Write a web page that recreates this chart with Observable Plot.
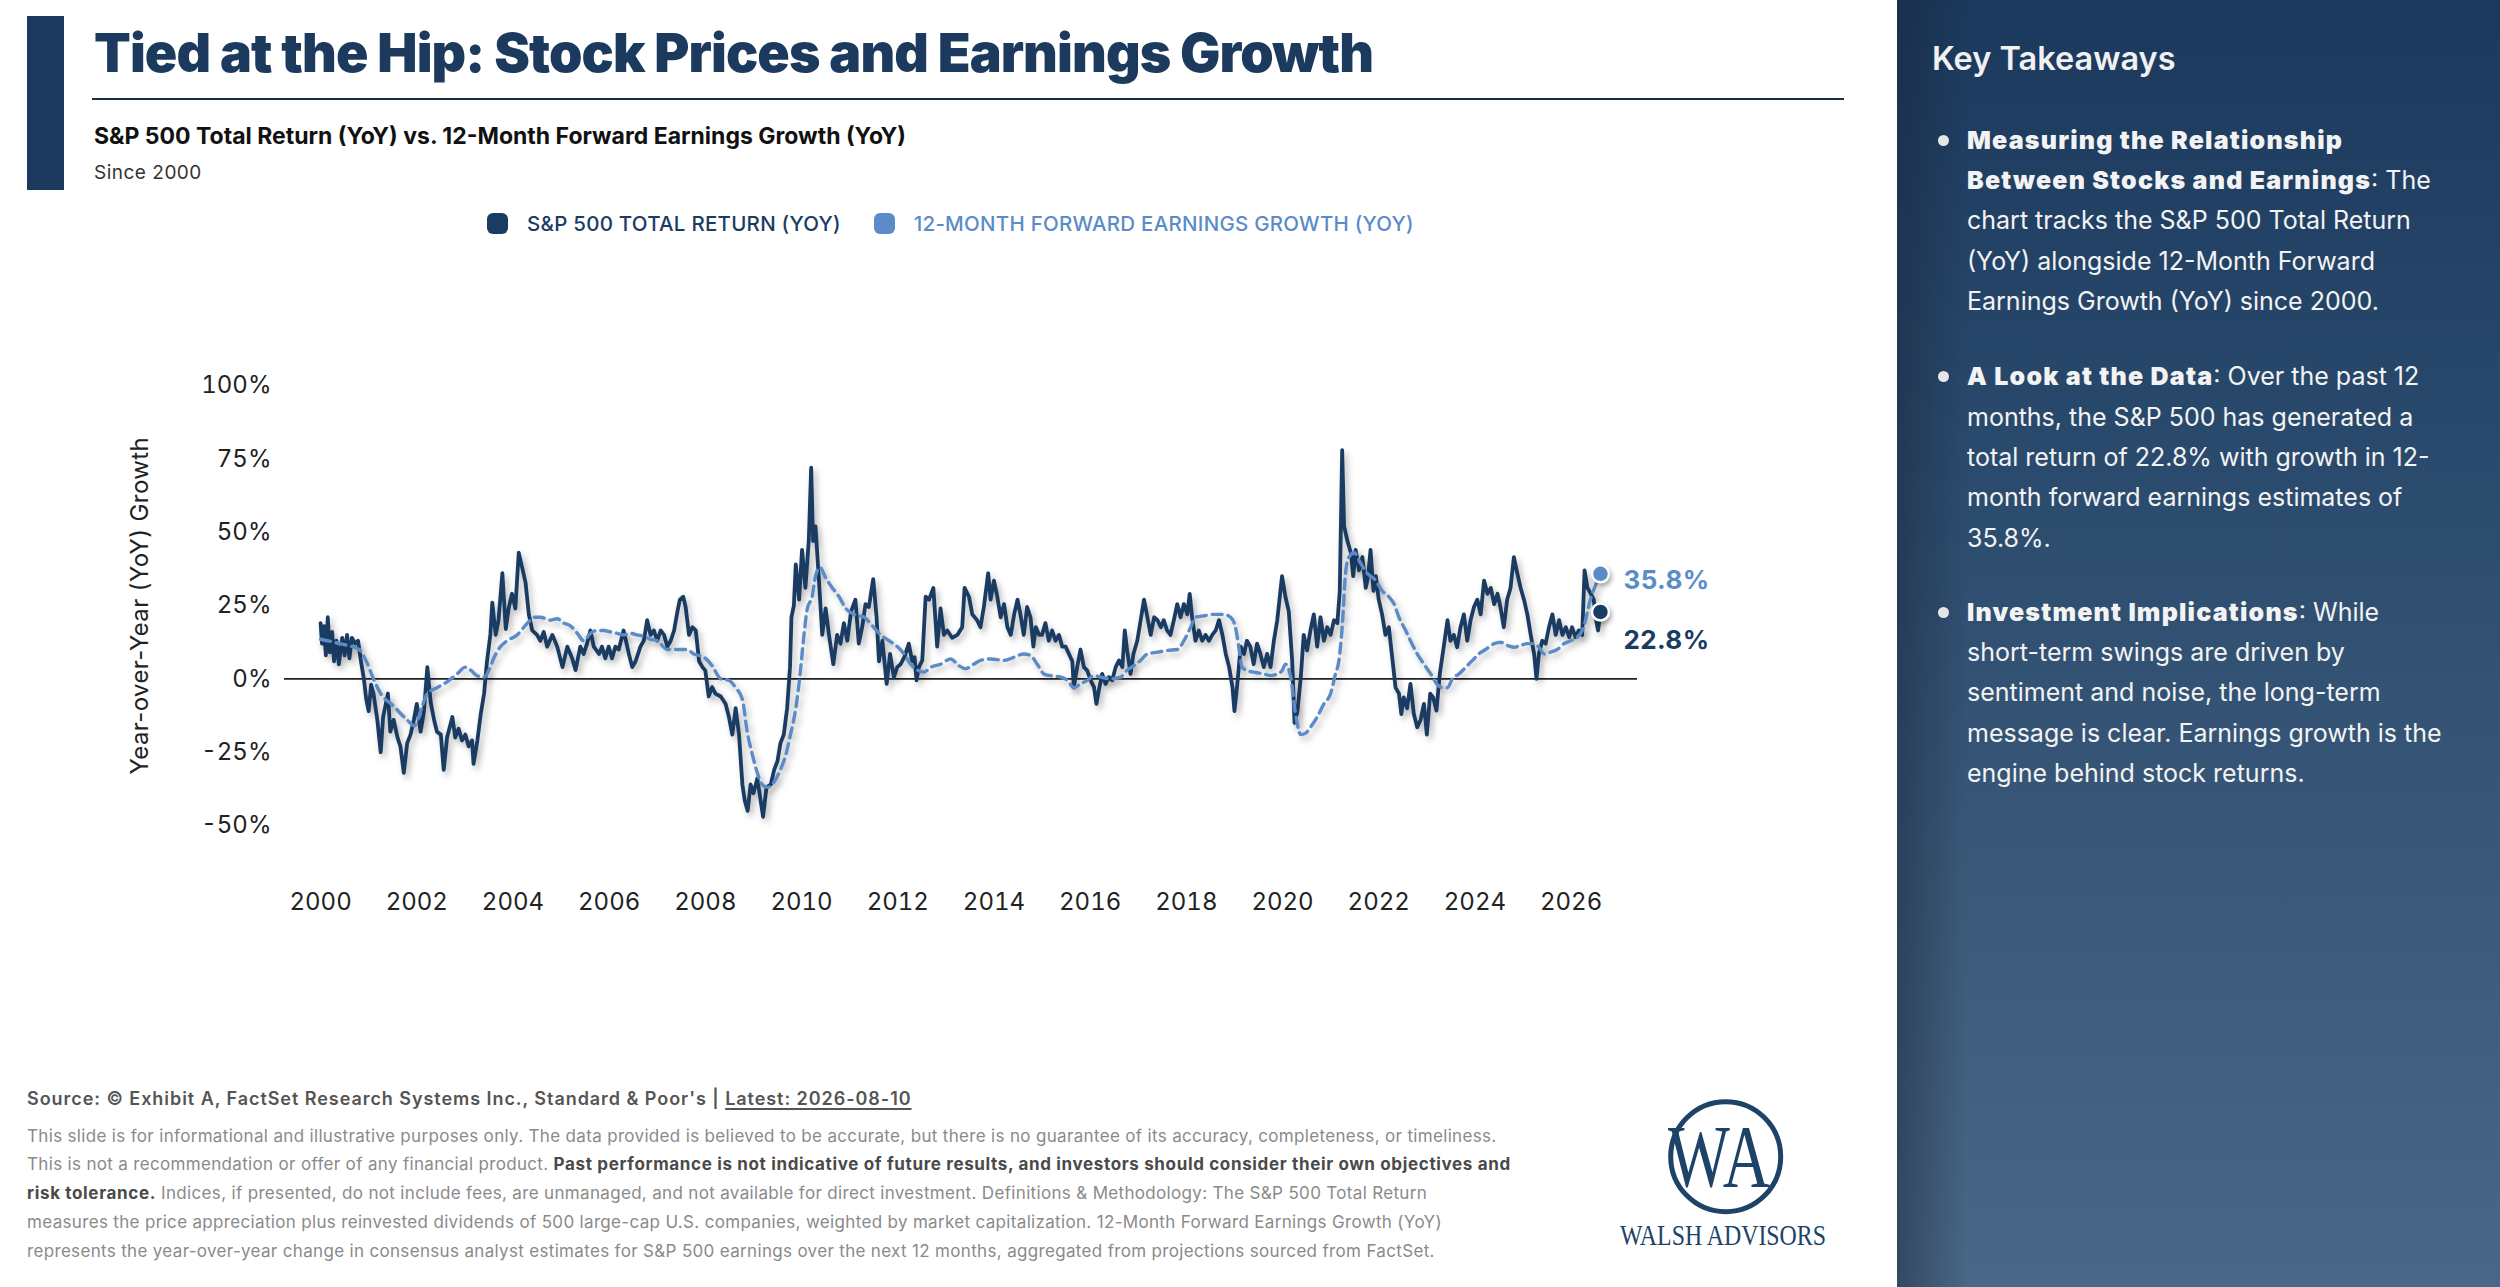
<!DOCTYPE html>
<html>
<head>
<meta charset="utf-8">
<script src="https://cdn.jsdelivr.net/npm/d3@7"></script>
<script src="https://cdn.jsdelivr.net/npm/@observablehq/plot@0.6"></script>
<style>
  html, body { margin: 0; padding: 0; }
  body { width: 2500px; height: 1287px; position: relative; overflow: hidden; background: #fff; font-family: Inter, "Noto Sans", sans-serif; }
  .abs { position: absolute; white-space: nowrap; }
  #bar { left: 27px; top: 16px; width: 37px; height: 174px; background: #1b3a5e; }
  #title { left: 94px; top: 22.5px; font-size: 53.6px; line-height: 60px; font-weight: 900; color: #1b3a5e; letter-spacing: -0.9px; }
  #rule { left: 92px; top: 98px; width: 1752px; height: 2px; background: #1e2b40; }
  #subtitle { left: 94px; top: 123.5px; font-size: 23px; line-height: 24px; font-weight: 700; color: #111; letter-spacing: 0px; }
  #since { left: 94px; top: 161px; font-size: 19px; line-height: 24px; font-weight: 400; color: #333; letter-spacing: 0.5px; }
  #legend { left: 487px; top: 211px; height: 24px; display: flex; align-items: center; font-size: 20.5px; font-weight: 500; letter-spacing: 0.25px; }
  #legend .sw { width: 21px; height: 21px; border-radius: 6px; display: inline-block; margin-right: 19px; }
  #legend .item { display: flex; align-items: center; margin-right: 33px; }
  #chart { left: 0; top: 300px; }
  #panel { left: 1897px; top: 0; width: 603px; height: 1287px;
    background: linear-gradient(to right, rgba(25,35,55,0.45) 0px, rgba(25,35,55,0.0) 70px),
                linear-gradient(180deg, #1a395d 0%, #2a4a6d 35%, #3b5a7a 70%, #496786 100%); }
  #kt { left: 1932px; top: 40px; font-size: 32.5px; line-height: 38px; font-weight: 600; color: #f1f1f1; }
  .para { left: 1967px; font-size: 25px; line-height: 40.3px; color: #f3f3f3; font-weight: 400; white-space: nowrap; }
  .para b { font-weight: 900; letter-spacing: 1.2px; }
  .dot { width: 11px; height: 11px; border-radius: 50%; background: #e6e6e6; left: 1937.5px; }
  #source { left: 27px; top: 1087px; font-size: 18px; line-height: 24px; font-weight: 600; color: #555; letter-spacing: 0.95px; }
  #source u { text-decoration-thickness: 1.5px; text-underline-offset: 3px; }
  #disc { left: 27px; top: 1121.6px; font-size: 17px; line-height: 28.8px; color: #8a8a8a; white-space: nowrap; letter-spacing: 0.33px; }
  #disc b { color: #4a4a4a; font-weight: 700; letter-spacing: 0.65px; }
  #logo { left: 1600px; top: 1080px; }
</style>
</head>
<body>
<div id="bar" class="abs"></div>
<div id="title" class="abs">Tied at the Hip: Stock Prices and Earnings Growth</div>
<div id="rule" class="abs"></div>
<div id="subtitle" class="abs">S&amp;P 500 Total Return (YoY) vs. 12-Month Forward Earnings Growth (YoY)</div>
<div id="since" class="abs">Since 2000</div>
<div id="legend" class="abs"></div>
<div id="chart" class="abs"></div>

<div id="panel" class="abs"></div>
<div id="kt" class="abs">Key Takeaways</div>
<div class="abs dot" style="top:134.5px"></div>
<div class="abs para" style="top:119.9px"><b>Measuring the Relationship</b><br><b>Between Stocks and Earnings</b>: The<br>chart tracks the S&amp;P 500 Total Return<br>(YoY) alongside 12-Month Forward<br>Earnings Growth (YoY) since 2000.</div>
<div class="abs dot" style="top:371px"></div>
<div class="abs para" style="top:356.4px"><b>A Look at the Data</b>: Over the past 12<br>months, the S&amp;P 500 has generated a<br>total return of 22.8% with growth in 12-<br>month forward earnings estimates of<br>35.8%.</div>
<div class="abs dot" style="top:606.5px"></div>
<div class="abs para" style="top:591.9px"><b>Investment Implications</b>: While<br>short-term swings are driven by<br>sentiment and noise, the long-term<br>message is clear. Earnings growth is the<br>engine behind stock returns.</div>

<div id="source" class="abs">Source: © Exhibit A, FactSet Research Systems Inc., Standard &amp; Poor's | <u>Latest: 2026-08-10</u></div>
<div id="disc" class="abs">This slide is for informational and illustrative purposes only. The data provided is believed to be accurate, but there is no guarantee of its accuracy, completeness, or timeliness.<br>This is not a recommendation or offer of any financial product. <b>Past performance is not indicative of future results, and investors should consider their own objectives and</b><br><b>risk tolerance.</b> Indices, if presented, do not include fees, are unmanaged, and not available for direct investment. Definitions &amp; Methodology: The S&amp;P 500 Total Return<br>measures the price appreciation plus reinvested dividends of 500 large-cap U.S. companies, weighted by market capitalization. 12-Month Forward Earnings Growth (YoY)<br>represents the year-over-year change in consensus analyst estimates for S&amp;P 500 earnings over the next 12 months, aggregated from projections sourced from FactSet.</div>

<svg id="logo" class="abs" width="296" height="207" viewBox="1600 1080 296 207">
  <circle cx="1725.7" cy="1156.7" r="55" fill="none" stroke="#1d4368" stroke-width="5"/>
  <text x="1668" y="1186" font-family="Liberation Serif, DejaVu Serif, serif" font-size="88" fill="#1d4368" textLength="102" lengthAdjust="spacingAndGlyphs">WA</text>
  <text x="1620" y="1245" font-family="Liberation Serif, DejaVu Serif, serif" font-size="30" fill="#1d4368" textLength="206" lengthAdjust="spacingAndGlyphs">WALSH ADVISORS</text>
</svg>

<script>
// ---- Data ----
const seriesNames = ["S&P 500 TOTAL RETURN (YOY)", "12-MONTH FORWARD EARNINGS GROWTH (YOY)"];
const seriesColors = ["#1a3c63", "#5b8cc8"];
const xTicks = [2000, 2002, 2004, 2006, 2008, 2010, 2012, 2014, 2016, 2018, 2020, 2022, 2024, 2026];
const yTicks = [-0.5, -0.25, 0, 0.25, 0.5, 0.75, 1.0];
const yAxisLabel = "Year-over-Year (YoY) Growth";

const spxYears = [
2000.00,2000.03,2000.07,2000.11,2000.15,2000.19,2000.24,2000.28,2000.33,2000.38,2000.45,2000.50,2000.55,2000.60,2000.65,2000.72,2000.78,2000.83,2000.90,2000.95,
2001.00,2001.05,2001.10,2001.18,2001.25,2001.30,2001.40,2001.45,2001.52,2001.60,2001.66,2001.73,2001.80,2001.87,2001.94,
2002.00,2002.08,2002.15,2002.22,2002.29,2002.36,2002.42,2002.50,2002.56,2002.63,2002.74,2002.80,2002.87,2002.94,
2003.01,2003.08,2003.15,2003.18,2003.26,2003.33,2003.40,2003.46,2003.53,2003.57,2003.64,2003.70,2003.78,2003.85,2003.91,2003.98,
2004.05,2004.12,2004.19,2004.26,2004.33,2004.40,2004.50,2004.57,2004.64,2004.71,2004.82,2004.92,
2005.03,2005.13,2005.23,2005.30,2005.40,2005.47,2005.54,2005.61,2005.68,2005.79,2005.85,2005.92,2005.99,
2006.06,2006.13,2006.20,2006.30,2006.41,2006.48,2006.55,2006.65,2006.72,2006.79,2006.86,2006.93,
2007.00,2007.07,2007.14,2007.21,2007.28,2007.35,2007.42,2007.47,2007.54,2007.59,2007.66,2007.73,2007.80,2007.87,2007.94,
2008.00,2008.07,2008.14,2008.21,2008.32,2008.42,2008.49,2008.56,2008.63,2008.70,2008.77,2008.82,2008.88,2008.94,
2009.00,2009.08,2009.15,2009.20,2009.27,2009.36,2009.43,2009.50,2009.56,2009.63,2009.70,2009.76,2009.79,2009.84,2009.88,2009.95,
2010.01,2010.08,2010.15,2010.20,2010.24,2010.29,2010.36,2010.43,2010.50,2010.57,2010.66,2010.74,2010.81,2010.88,2010.95,
2011.03,2011.12,2011.19,2011.26,2011.33,2011.40,2011.49,2011.56,2011.61,2011.68,2011.77,2011.84,2011.92,2011.99,
2012.06,2012.14,2012.23,2012.30,2012.35,2012.39,2012.44,2012.51,2012.58,2012.65,2012.74,2012.82,2012.89,2012.96,
2013.03,2013.13,2013.24,2013.34,2013.39,2013.48,2013.55,2013.65,2013.72,2013.79,2013.88,2013.93,
2014.00,2014.07,2014.14,2014.21,2014.28,2014.35,2014.42,2014.49,2014.55,2014.62,2014.69,2014.76,2014.82,2014.87,2014.94,
2015.00,2015.07,2015.14,2015.21,2015.28,2015.35,2015.42,2015.49,2015.56,2015.63,2015.66,2015.73,2015.80,2015.87,2015.94,
2016.01,2016.08,2016.13,2016.18,2016.25,2016.32,2016.39,2016.46,2016.53,2016.60,2016.67,2016.72,2016.77,2016.84,2016.90,2016.98,
2017.05,2017.12,2017.19,2017.26,2017.33,2017.40,2017.47,2017.53,2017.60,2017.67,2017.74,2017.81,2017.88,2017.95,
2018.02,2018.07,2018.12,2018.19,2018.26,2018.33,2018.40,2018.47,2018.54,2018.61,2018.68,2018.75,2018.82,2018.89,2018.96,
2019.00,2019.06,2019.13,2019.20,2019.26,2019.33,2019.40,2019.47,2019.54,2019.61,2019.68,2019.75,2019.82,2019.89,2019.95,2019.99,
2020.06,2020.13,2020.20,2020.25,2020.31,2020.38,2020.44,2020.51,2020.58,2020.65,2020.72,2020.79,2020.86,2020.93,
2021.00,2021.07,2021.14,2021.19,2021.24,2021.28,2021.35,2021.42,2021.47,2021.52,2021.59,2021.66,2021.73,2021.78,2021.83,2021.89,2021.94,
2022.00,2022.07,2022.14,2022.21,2022.28,2022.35,2022.42,2022.47,2022.52,2022.59,2022.66,2022.73,2022.80,2022.87,2022.94,
2023.00,2023.07,2023.13,2023.20,2023.27,2023.34,2023.43,2023.49,2023.56,2023.63,2023.70,2023.77,2023.84,2023.91,2023.98,
2024.05,2024.12,2024.19,2024.26,2024.33,2024.40,2024.47,2024.53,2024.60,2024.67,2024.74,2024.81,2024.88,2024.95,
2025.02,2025.09,2025.16,2025.23,2025.28,2025.33,2025.40,2025.47,2025.54,2025.61,2025.68,2025.75,2025.82,2025.89,2025.96,
2026.02,2026.09,2026.16,2026.23,2026.28,2026.34,2026.41,2026.47,2026.53,2026.56,2026.61];
const spxValues = [
0.19,0.12,0.18,0.08,0.21,0.09,0.16,0.06,0.13,0.05,0.14,0.08,0.15,0.07,0.14,0.12,0.13,0.07,0.00,-0.07,
-0.11,-0.02,-0.05,-0.14,-0.25,-0.13,-0.05,-0.18,-0.14,-0.20,-0.23,-0.32,-0.22,-0.19,-0.14,
-0.085,-0.18,-0.11,0.04,-0.08,-0.14,-0.18,-0.19,-0.31,-0.20,-0.13,-0.20,-0.17,-0.21,
-0.19,-0.23,-0.21,-0.29,-0.21,-0.12,-0.05,0.06,0.15,0.26,0.15,0.20,0.36,0.17,0.24,0.29,
0.24,0.43,0.38,0.33,0.22,0.165,0.15,0.13,0.16,0.11,0.15,0.11,
0.04,0.11,0.07,0.03,0.11,0.085,0.12,0.165,0.11,0.085,0.11,0.07,0.11,
0.07,0.11,0.10,0.165,0.085,0.04,0.06,0.11,0.13,0.20,0.15,0.165,
0.13,0.165,0.15,0.11,0.13,0.165,0.23,0.27,0.28,0.245,0.15,0.176,0.165,0.06,0.04,
0.028,-0.06,-0.028,-0.05,-0.06,-0.085,-0.13,-0.19,-0.10,-0.19,-0.36,-0.415,-0.45,-0.36,
-0.39,-0.34,-0.415,-0.47,-0.37,-0.36,-0.31,-0.28,-0.22,-0.19,-0.10,0.04,0.21,0.25,0.39,0.27,
0.44,0.31,0.47,0.72,0.47,0.52,0.34,0.15,0.24,0.15,0.05,0.15,0.12,0.19,0.13,
0.23,0.27,0.12,0.176,0.255,0.245,0.34,0.21,0.06,0.13,-0.017,0.085,0.006,0.04,
0.05,0.075,0.12,0.06,0.074,-0.005,0.04,0.063,0.28,0.27,0.31,0.11,0.24,0.15,
0.165,0.14,0.15,0.176,0.31,0.28,0.22,0.20,0.176,0.245,0.36,0.27,
0.335,0.28,0.21,0.255,0.176,0.15,0.22,0.27,0.22,0.15,0.245,0.21,0.11,0.176,0.15,
0.15,0.19,0.13,0.165,0.13,0.15,0.11,0.11,0.085,0.06,-0.03,0.04,0.10,0.04,0.028,
-0.005,-0.028,-0.085,-0.04,0.017,-0.017,0.006,-0.005,0.04,0.063,0.04,0.165,0.097,0.017,0.085,0.13,
0.20,0.27,0.21,0.15,0.21,0.20,0.176,0.20,0.165,0.15,0.20,0.255,0.21,0.255,
0.22,0.29,0.21,0.13,0.165,0.13,0.15,0.13,0.15,0.165,0.20,0.15,0.085,0.04,-0.03,
-0.11,-0.017,0.11,0.085,0.13,0.11,0.05,0.12,0.085,0.04,0.085,0.04,0.13,0.20,0.29,0.35,
0.28,0.23,0.063,-0.15,-0.11,0.006,0.15,0.097,0.165,0.22,0.11,0.21,0.13,0.176,
0.15,0.20,0.19,0.30,0.78,0.52,0.47,0.43,0.35,0.44,0.37,0.415,0.31,0.35,0.44,0.30,0.35,
0.27,0.22,0.15,0.176,0.074,-0.03,-0.05,-0.12,-0.063,-0.10,-0.017,-0.12,-0.165,-0.14,-0.085,
-0.19,-0.05,-0.063,-0.108,0.017,0.097,0.20,0.13,0.15,0.108,0.176,0.22,0.13,0.20,0.245,
0.27,0.22,0.335,0.29,0.31,0.255,0.29,0.245,0.176,0.27,0.31,0.415,0.36,0.31,
0.27,0.22,0.15,0.085,0.00,0.085,0.13,0.12,0.176,0.22,0.15,0.20,0.15,0.176,0.142,
0.176,0.142,0.165,0.15,0.37,0.31,0.29,0.27,0.19,0.165,0.228];

const epsYears = [
2000.00,2000.40,2000.80,2000.95,2001.10,2001.25,2001.50,2001.80,2001.95,2002.10,2002.22,2002.42,2002.63,2002.84,
2003.01,2003.12,2003.26,2003.40,2003.50,2003.60,2003.74,2003.88,2004.09,2004.30,2004.44,2004.57,2004.78,2004.92,
2005.06,2005.20,2005.34,2005.47,2005.61,2005.75,2005.89,2006.03,2006.17,2006.30,2006.45,2006.58,2006.72,2006.86,
2007.00,2007.21,2007.42,2007.62,2007.76,2007.97,2008.14,2008.32,2008.49,2008.63,2008.77,2008.87,2008.98,
2009.08,2009.18,2009.29,2009.39,2009.53,2009.67,2009.77,2009.88,2009.97,2010.05,2010.12,2010.22,2010.29,2010.38,
2010.50,2010.64,2010.78,2010.92,2011.09,2011.30,2011.50,2011.64,2011.82,2011.99,2012.13,2012.27,2012.41,2012.54,
2012.69,2012.89,2013.10,2013.27,2013.41,2013.58,2013.72,2013.93,2014.21,2014.42,2014.62,2014.76,2014.90,
2015.04,2015.18,2015.39,2015.53,2015.66,2015.80,2015.94,2016.08,2016.22,2016.43,2016.63,2016.77,2016.91,
2017.05,2017.19,2017.40,2017.60,2017.81,2017.95,2018.09,2018.19,2018.37,2018.57,2018.78,2018.92,
2019.02,2019.09,2019.16,2019.27,2019.40,2019.61,2019.75,2019.89,2019.99,2020.06,2020.17,2020.27,2020.38,
2020.48,2020.58,2020.72,2020.86,2021.00,2021.10,2021.17,2021.24,2021.31,2021.38,2021.49,2021.62,2021.76,2021.94,
2022.07,2022.21,2022.32,2022.42,2022.56,2022.66,2022.80,2022.94,2023.08,2023.22,2023.32,2023.43,2023.53,
2023.67,2023.81,2023.95,2024.08,2024.22,2024.40,2024.53,2024.67,2024.81,2024.95,2025.09,2025.23,2025.33,
2025.44,2025.57,2025.71,2025.85,2025.99,2026.13,2026.26,2026.40,2026.51,2026.61];
const epsValues = [
0.135,0.12,0.10,0.06,0.00,-0.05,-0.09,-0.14,-0.16,-0.10,-0.05,-0.03,-0.01,0.017,
0.04,0.03,0.01,0.006,0.03,0.07,0.11,0.13,0.15,0.19,0.21,0.21,0.20,0.205,
0.19,0.18,0.155,0.13,0.155,0.165,0.165,0.16,0.155,0.15,0.155,0.15,0.145,0.135,
0.13,0.10,0.10,0.10,0.085,0.074,0.045,0.00,-0.005,-0.03,-0.07,-0.18,-0.26,
-0.32,-0.36,-0.37,-0.36,-0.32,-0.26,-0.19,-0.10,0.017,0.15,0.24,0.28,0.35,0.38,
0.345,0.31,0.28,0.24,0.22,0.21,0.176,0.15,0.13,0.11,0.085,0.05,0.03,0.023,
0.04,0.05,0.068,0.045,0.035,0.05,0.063,0.068,0.063,0.074,0.085,0.08,0.05,
0.017,0.011,0.006,-0.005,-0.03,-0.017,-0.005,0.011,0.006,0.00,0.006,0.03,0.045,
0.063,0.085,0.091,0.097,0.10,0.13,0.176,0.21,0.215,0.22,0.22,0.21,
0.176,0.11,0.04,0.028,0.023,0.017,0.011,0.017,0.028,0.05,0.006,-0.12,-0.19,
-0.185,-0.165,-0.13,-0.085,-0.05,0.017,0.06,0.176,0.36,0.415,0.43,0.395,0.36,0.335,
0.30,0.28,0.255,0.21,0.165,0.13,0.085,0.05,0.017,-0.02,-0.03,-0.03,0.00,
0.017,0.04,0.063,0.085,0.10,0.12,0.125,0.114,0.108,0.114,0.12,0.12,0.108,
0.085,0.091,0.10,0.12,0.13,0.142,0.176,0.27,0.32,0.358];

const latestLabels = ["35.8%", "22.8%"];

// ---- Legend ----
const legend = d3.select("#legend");
seriesNames.forEach((n, i) => {
  const it = legend.append("div").attr("class", "item");
  it.append("span").attr("class", "sw").style("background", seriesColors[i]);
  it.append("span").text(n).style("color", seriesColors[i]);
});

// ---- Chart ----
const spx = spxValues.map((v, i) => ({x: spxYears[i], y: v}));
const eps = epsValues.map((v, i) => ({x: epsYears[i], y: v}));
const lastSpx = spx[spx.length - 1];
const lastEps = eps[eps.length - 1];

const chart = Plot.plot({
  width: 1800,
  height: 650,
  marginLeft: 284,
  marginRight: 163,
  marginTop: 85,
  marginBottom: 95.6,
  style: {fontFamily: "Inter, 'Noto Sans', sans-serif", fontSize: "24px", color: "#222", background: "transparent", overflow: "visible"},
  x: {domain: [1999.25, 2027.38], ticks: xTicks, tickFormat: "d", tickSize: 0, tickPadding: 38, label: null},
  y: {domain: [-0.6, 1.0], ticks: yTicks, tickFormat: d => Math.round(d * 100) + "%", tickSize: 0, tickPadding: 13, label: null},
  marks: [
    Plot.ruleY([0], {stroke: "#222", strokeWidth: 1.6}),
    Plot.line(spx, {x: "x", y: "y", stroke: seriesColors[0], strokeWidth: 3.8, strokeLinejoin: "round"}),
    Plot.line(eps, {x: "x", y: "y", stroke: seriesColors[1], strokeWidth: 3.4, strokeDasharray: "10,6", curve: "monotone-x"}),
    Plot.dot([lastEps], {x: "x", y: "y", r: 8.5, fill: seriesColors[1], stroke: "white", strokeWidth: 2.5}),
    Plot.dot([lastSpx], {x: "x", y: "y", r: 8.5, fill: seriesColors[0], stroke: "white", strokeWidth: 2.5}),
    Plot.text([lastEps], {x: "x", y: "y", text: () => latestLabels[0], dx: 23, dy: 7, textAnchor: "start", fill: seriesColors[1], fontSize: 26, fontWeight: 700}),
    Plot.text([lastSpx], {x: "x", y: "y", text: () => latestLabels[1], dx: 23, dy: 29, textAnchor: "start", fill: seriesColors[0], fontSize: 26, fontWeight: 700}),
    Plot.text([yAxisLabel], {frameAnchor: "left", text: d => d, rotate: -90, textAnchor: "middle", dx: -144, dy: -14.5, fontSize: 24, fill: "#222"})
  ]
});
document.getElementById("chart").appendChild(chart);
d3.select(chart).selectAll("g[aria-label=line] path").style("filter", "drop-shadow(3px 4px 3px rgba(0,0,0,0.28))");
d3.select(chart).selectAll("g[aria-label=dot] circle").style("filter", "drop-shadow(2px 3px 2px rgba(0,0,0,0.3))");
d3.select(chart).selectAll("g[aria-label=text] text").style("letter-spacing", "0.4px");
</script>
</body>
</html>
